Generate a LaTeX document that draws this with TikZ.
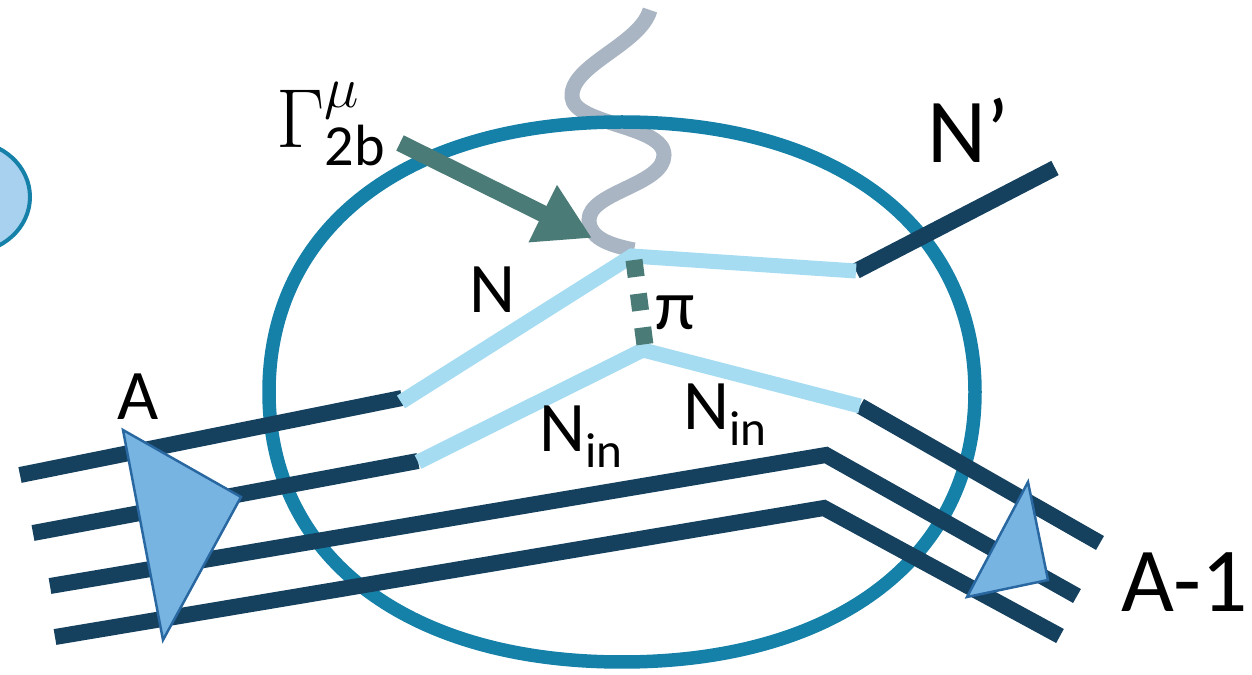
\documentclass[tikz,border=0pt]{standalone}
\usepackage{graphicx}
\usepackage{fontspec}
\setmainfont{Carlito}
\usetikzlibrary{arrows.meta}
\definecolor{ellc}{HTML}{1580A8}
\definecolor{navyc}{HTML}{15415F}
\definecolor{lightc}{HTML}{A5DCF2}
\definecolor{trifill}{HTML}{78B4E2}
\definecolor{triedge}{HTML}{2867A0}
\definecolor{gammac}{HTML}{4A7B76}
\definecolor{photonc}{HTML}{A9B5C3}
\definecolor{blobfill}{HTML}{A8D1EF}
\begin{document}
\begin{tikzpicture}[x=0.02cm,y=-0.02cm,
  nucleon/.style={draw=navyc, line width=0.32cm, line join=miter},
  inner/.style={draw=lightc, line width=0.3cm, line join=miter},
  tri/.style={fill=trifill, draw=triedge, line width=1.4pt, line join=miter},
  big/.style={font=\fontsize{52}{52}\selectfont, inner sep=0pt, anchor=base west},
  mid/.style={font=\fontsize{40.5}{40.5}\selectfont, inner sep=0pt, anchor=base west}]
\useasboundingbox (0,0) rectangle (1252,675);
\clip (0,0) rectangle (1252,675);
% left blob
\filldraw[fill=blobfill, draw=ellc, line width=0.08cm] (-32,197) ellipse[x radius=1.24cm, y radius=1.12cm];
% photon
\coordinate (ph0) at (650,10);
\coordinate (ph1) at (572,97);
\coordinate (ph2) at (664,155);
\coordinate (ph3) at (589,220);
\coordinate (vtx) at (634,250);
\draw[photonc, line width=0.3cm] (ph0) .. controls (640,45) and (570,65) .. (ph1)
  .. controls (574,125) and (664,125) .. (ph2)
  .. controls (664,185) and (589,192) .. (ph3)
  .. controls (589,240) and (615,246) .. (vtx);
% big ellipse
\draw[ellc, line width=0.27cm] (975,392) .. controls (975,227) and (837,122) .. (622,122)
  .. controls (407,122) and (269,227) .. (269,392)
  .. controls (269,557) and (407,662) .. (622,662)
  .. controls (837,662) and (975,557) .. (975,392) -- cycle;
% nucleon lines
\coordinate (L1a) at (20,475);  \coordinate (L1b) at (402,398);
\coordinate (L2a) at (33,533);  \coordinate (L2b) at (418,461);
\coordinate (L3a) at (50,586);  \coordinate (L3b) at (826,455); \coordinate (L3c) at (1077,596);
\coordinate (L4a) at (55,637);  \coordinate (L4b) at (824,508); \coordinate (L4c) at (1060,636);
\coordinate (U1) at (401,402); \coordinate (U2) at (632,256); \coordinate (U3) at (856,271);
\coordinate (NP) at (1055,168);
\coordinate (D1) at (418,462); \coordinate (D2) at (643,350); \coordinate (D3) at (860,406);
\coordinate (DR) at (1100,543);
\draw[nucleon] (L1a) -- (L1b);
\draw[nucleon] (L2a) -- (L2b);
\draw[nucleon] (L3a) -- (L3b) -- (L3c);
\draw[nucleon] (L4a) -- (L4b) -- (L4c);
\draw[nucleon] (U3) -- (NP);
\draw[nucleon] (D3) -- (DR);
\draw[inner] (U1) -- (U2) -- (U3);
\draw[inner] (D1) -- (D2) -- (D3);
% pion
\coordinate (pa) at (634,260);
\coordinate (pb) at (645,345);
\draw[gammac, line width=0.34cm, dash pattern=on 0.34cm off 0.34cm] (pa) -- (pb);
% gamma arrow
\coordinate (ga) at (400,143);
\coordinate (gb) at (592,238);
\draw[gammac, line width=0.34cm, -{Triangle[length=1.1cm,width=1.2cm]}] (ga) -- (gb);
% triangles
\filldraw[tri] (123,430) -- (241,497) -- (163,640) -- cycle;
\filldraw[tri] (1028,482) -- (1048,580) -- (967,597) -- cycle;
% labels
\node[anchor=base west, inner sep=0pt, font=\fontsize{20.74}{20.74}\selectfont] (gam) at (276,148) {\scalebox{2.3}{$\Gamma^{\mu}_{\mathrm{2b}}$}};
\node[big] (nprime) at (927,163) {N’};
\node[big] (am1) at (1121,612) {A-1};
\node[mid] (alab) at (117,420) {A};
\node[mid] (nlab) at (469,313) {N};
\node[mid] (nin1) at (539,452) {N\raisebox{-9pt}{\fontsize{28}{28}\selectfont in}};
\node[mid] (nin2) at (683,430) {N\raisebox{-9pt}{\fontsize{28}{28}\selectfont in}};
\node[mid] (pilab) at (655,330) {π};
\end{tikzpicture}
\end{document}
